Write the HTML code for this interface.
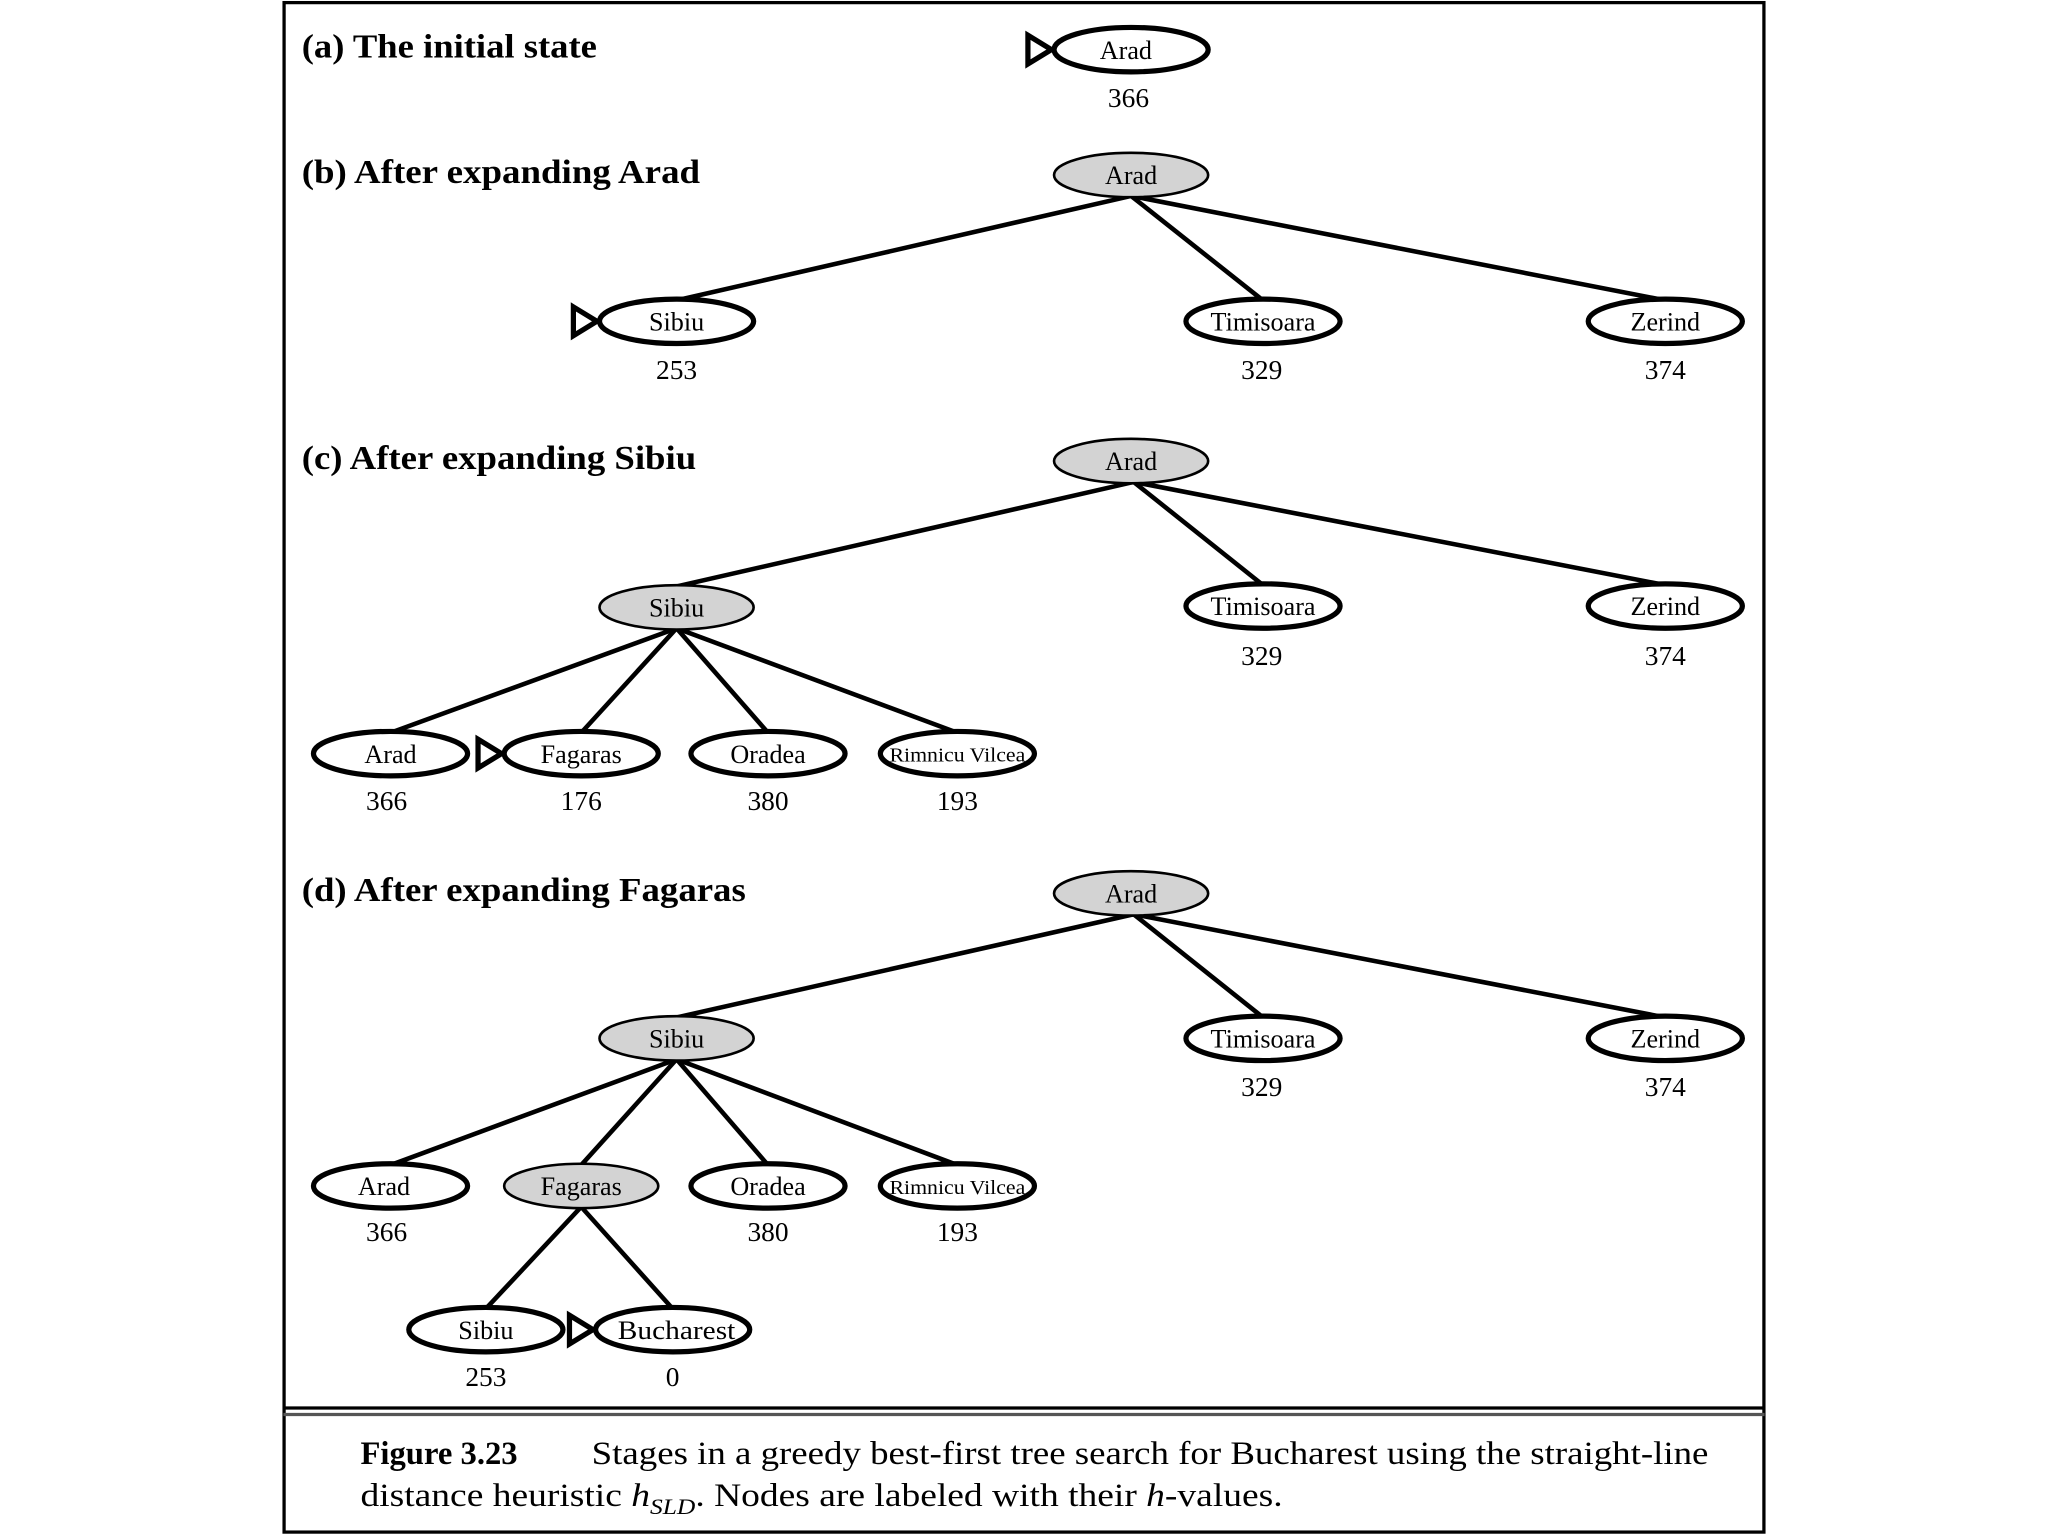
<!DOCTYPE html>
<html><head><meta charset="utf-8"><style>
html,body{margin:0;padding:0;background:#fff;width:2048px;height:1536px;overflow:hidden}
svg{display:block}
.n{font-family:"Liberation Serif",serif;font-size:20px;text-anchor:middle}
.h{font-family:"Liberation Serif",serif;font-size:21px;text-anchor:middle}
.t{font-family:"Liberation Serif",serif;font-size:26px;font-weight:bold}
.c{font-family:"Liberation Serif",serif;font-size:25px}
</style></head><body>
<svg width="2048" height="1536" viewBox="0 0 1568 1176" xmlns="http://www.w3.org/2000/svg">
<defs>
<g id="mk"><polygon points="-20,-11 -2,0 -20,11" fill="none" stroke="#000" stroke-width="4"/></g>
</defs>
<rect x="217.5" y="2" width="1133" height="1171" fill="#fff" stroke="#000" stroke-width="2.5"/>
<line x1="217" y1="1078" x2="1351" y2="1078" stroke="#000" stroke-width="2.5"/>
<line x1="217" y1="1083" x2="1351" y2="1083" stroke="#555" stroke-width="2.5"/>

<text class="t" x="231" y="44" textLength="226" lengthAdjust="spacingAndGlyphs">(a) The initial state</text>
<text class="t" x="231" y="140" textLength="305" lengthAdjust="spacingAndGlyphs">(b) After expanding Arad</text>
<text class="t" x="231" y="359" textLength="302" lengthAdjust="spacingAndGlyphs">(c) After expanding Sibiu</text>
<text class="t" x="231" y="690" textLength="340" lengthAdjust="spacingAndGlyphs">(d) After expanding Fagaras</text>

<g stroke="#000" stroke-width="3.5" fill="none">
<line x1="866" y1="150" x2="518" y2="230"/>
<line x1="866" y1="150" x2="967" y2="230"/>
<line x1="866" y1="150" x2="1275" y2="230"/>
<line x1="868" y1="369" x2="518" y2="449"/>
<line x1="868" y1="369" x2="967" y2="448"/>
<line x1="868" y1="369" x2="1275" y2="448"/>
<line x1="518" y1="481" x2="299" y2="561"/>
<line x1="518" y1="481" x2="445" y2="561"/>
<line x1="518" y1="481" x2="588" y2="561"/>
<line x1="518" y1="481" x2="733" y2="561"/>
<line x1="868" y1="700" x2="518" y2="779"/>
<line x1="868" y1="700" x2="967" y2="779"/>
<line x1="868" y1="700" x2="1275" y2="779"/>
<line x1="518" y1="811" x2="299" y2="892"/>
<line x1="518" y1="811" x2="445" y2="892"/>
<line x1="518" y1="811" x2="588" y2="892"/>
<line x1="518" y1="811" x2="733" y2="892"/>
<line x1="445" y1="924" x2="372" y2="1002"/>
<line x1="445" y1="924" x2="515" y2="1002"/>
</g>

<g stroke="#000" stroke-width="4">
<ellipse cx="866" cy="38" rx="59" ry="17" fill="#fff"/>
<ellipse cx="866" cy="134" rx="59" ry="17" fill="#d3d3d3" stroke-width="2"/>
<ellipse cx="518" cy="246" rx="59" ry="17" fill="#fff"/>
<ellipse cx="967" cy="246" rx="59" ry="17" fill="#fff"/>
<ellipse cx="1275" cy="246" rx="59" ry="17" fill="#fff"/>
<ellipse cx="866" cy="353" rx="59" ry="17" fill="#d3d3d3" stroke-width="2"/>
<ellipse cx="518" cy="465" rx="59" ry="17" fill="#d3d3d3" stroke-width="2"/>
<ellipse cx="967" cy="464" rx="59" ry="17" fill="#fff"/>
<ellipse cx="1275" cy="464" rx="59" ry="17" fill="#fff"/>
<ellipse cx="299" cy="577" rx="59" ry="17" fill="#fff"/>
<ellipse cx="445" cy="577" rx="59" ry="17" fill="#fff"/>
<ellipse cx="588" cy="577" rx="59" ry="17" fill="#fff"/>
<ellipse cx="733" cy="577" rx="59" ry="17" fill="#fff"/>
<ellipse cx="866" cy="684" rx="59" ry="17" fill="#d3d3d3" stroke-width="2"/>
<ellipse cx="518" cy="795" rx="59" ry="17" fill="#d3d3d3" stroke-width="2"/>
<ellipse cx="967" cy="795" rx="59" ry="17" fill="#fff"/>
<ellipse cx="1275" cy="795" rx="59" ry="17" fill="#fff"/>
<ellipse cx="299" cy="908" rx="59" ry="17" fill="#fff"/>
<ellipse cx="445" cy="908" rx="59" ry="17" fill="#d3d3d3" stroke-width="2"/>
<ellipse cx="588" cy="908" rx="59" ry="17" fill="#fff"/>
<ellipse cx="733" cy="908" rx="59" ry="17" fill="#fff"/>
<ellipse cx="372" cy="1018" rx="59" ry="17" fill="#fff"/>
<ellipse cx="515" cy="1018" rx="59" ry="17" fill="#fff"/>
</g>

<use href="#mk" x="807" y="38"/>
<use href="#mk" x="459" y="246"/>
<use href="#mk" x="386" y="577"/>
<use href="#mk" x="456" y="1018"/>

<g class="n">
<text x="862" y="45">Arad</text>
<text x="866" y="141">Arad</text>
<text x="518" y="253">Sibiu</text>
<text x="967" y="253">Timisoara</text>
<text x="1275" y="253">Zerind</text>
<text x="866" y="360">Arad</text>
<text x="518" y="472">Sibiu</text>
<text x="967" y="471">Timisoara</text>
<text x="1275" y="471">Zerind</text>
<text x="299" y="584">Arad</text>
<text x="445" y="584">Fagaras</text>
<text x="588" y="584">Oradea</text>
<text x="733" y="583" font-size="15" textLength="104" lengthAdjust="spacingAndGlyphs">Rimnicu Vilcea</text>
<text x="866" y="691">Arad</text>
<text x="518" y="802">Sibiu</text>
<text x="967" y="802">Timisoara</text>
<text x="1275" y="802">Zerind</text>
<text x="294" y="915">Arad</text>
<text x="445" y="915">Fagaras</text>
<text x="588" y="915">Oradea</text>
<text x="733" y="914" font-size="15" textLength="104" lengthAdjust="spacingAndGlyphs">Rimnicu Vilcea</text>
<text x="372" y="1025">Sibiu</text>
<text x="518" y="1025" textLength="90" lengthAdjust="spacingAndGlyphs">Bucharest</text>
</g>
<g class="h">
<text x="864" y="82">366</text>
<text x="518" y="290">253</text>
<text x="966" y="290">329</text>
<text x="1275" y="290">374</text>
<text x="966" y="509">329</text>
<text x="1275" y="509">374</text>
<text x="296" y="620">366</text>
<text x="445" y="620">176</text>
<text x="588" y="620">380</text>
<text x="733" y="620">193</text>
<text x="966" y="839">329</text>
<text x="1275" y="839">374</text>
<text x="296" y="950">366</text>
<text x="588" y="950">380</text>
<text x="733" y="950">193</text>
<text x="372" y="1061">253</text>
<text x="515" y="1061">0</text>
</g>

<text class="c" x="276" y="1121"><tspan font-weight="bold">Figure 3.23</tspan></text>
<text class="c" x="453" y="1121" textLength="855" lengthAdjust="spacingAndGlyphs">Stages in a greedy best-first tree search for Bucharest using the straight-line</text>
<text class="c" x="276" y="1153" textLength="706" lengthAdjust="spacingAndGlyphs">distance heuristic <tspan font-style="italic">h</tspan><tspan font-style="italic" font-size="17" dy="6">SLD</tspan><tspan dy="-6">. Nodes are labeled with their </tspan><tspan font-style="italic">h</tspan>-values.</text>
</svg>
</body></html>
